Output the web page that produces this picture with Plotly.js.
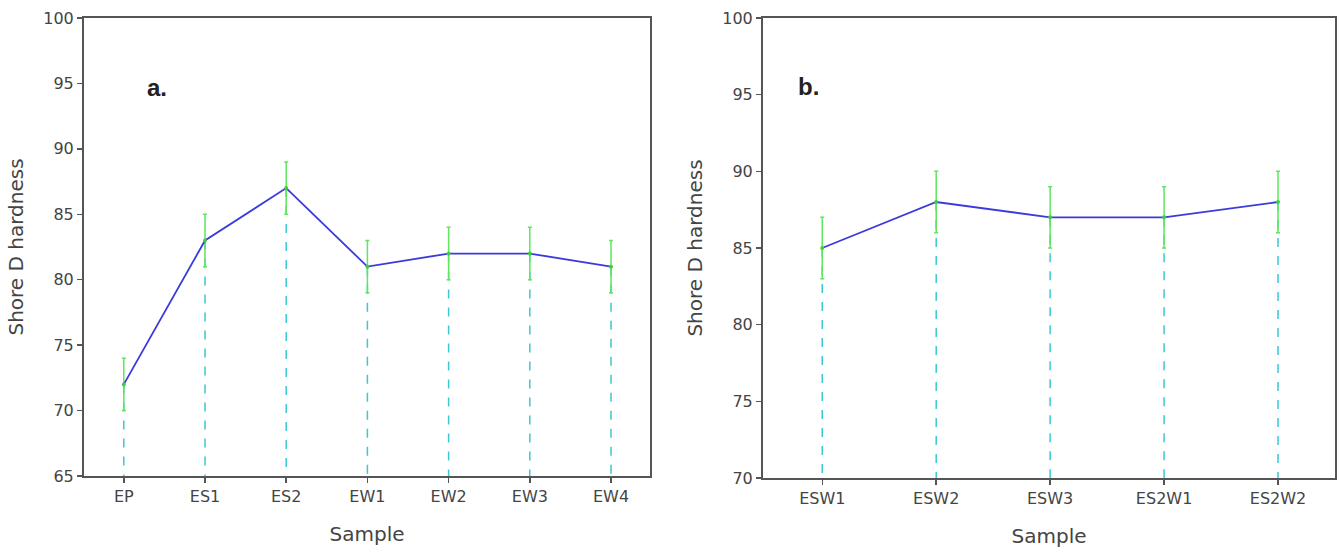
<!DOCTYPE html>
<html>
<head>
<meta charset="utf-8">
<script src="https://cdn.plot.ly/plotly-3.0.1.min.js"></script>
<style>html,body{margin:0;padding:0;background:#fff;}#chart{width:1340px;height:553px;}</style>
</head>
<body>
<div id="chart"></div>
<script>
// Panel a
const samplesA = ["EP", "ES1", "ES2", "EW1", "EW2", "EW3", "EW4"];
const hardnessA = [72, 83, 87, 81, 82, 82, 81];
const errorA = [2, 2, 2, 2, 2, 2, 2];
// Panel b
const samplesB = ["ESW1", "ESW2", "ESW3", "ES2W1", "ES2W2"];
const hardnessB = [85, 88, 87, 87, 88];
const errorB = [2, 2, 2, 2, 2];

const yMinA = 65, yMaxA = 100;
const yMinB = 70, yMaxB = 100;

function dropLines(cats, vals, base) {
  const xs = [], ys = [];
  cats.forEach((c, i) => { xs.push(c, c, null); ys.push(vals[i], base, null); });
  return {xs, ys};
}

const dA = dropLines(samplesA, hardnessA, yMinA);
const dB = dropLines(samplesB, hardnessB, yMinB);

const lineColor = "#3b3bdc";
const errColor = "#5ee65e";
const dropColor = "#3cc8d0";

const traces = [
  {x: dA.xs, y: dA.ys, xaxis: "x", yaxis: "y", mode: "lines", line: {color: dropColor, width: 1.5, dash: "dash"}, hoverinfo: "skip", showlegend: false},
  {x: dB.xs, y: dB.ys, xaxis: "x2", yaxis: "y2", mode: "lines", line: {color: dropColor, width: 1.5, dash: "dash"}, hoverinfo: "skip", showlegend: false},
  {x: samplesA, y: hardnessA, xaxis: "x", yaxis: "y", mode: "lines+markers",
   line: {color: lineColor, width: 1.8}, marker: {color: "#3ccf3c", size: 4},
   error_y: {type: "data", array: errorA, visible: true, color: errColor, thickness: 1.5, width: 2}, showlegend: false},
  {x: samplesB, y: hardnessB, xaxis: "x2", yaxis: "y2", mode: "lines+markers",
   line: {color: lineColor, width: 1.8}, marker: {color: "#3ccf3c", size: 4},
   error_y: {type: "data", array: errorB, visible: true, color: errColor, thickness: 1.5, width: 2}, showlegend: false}
];

const fam = "DejaVu Sans, Liberation Sans, Arial, sans-serif";
const axisFont = {family: fam, size: 16, color: "#444"};
const titleFont = {family: fam, size: 20, color: "#444"};

function xAxis(domain, cats, range, anchor) {
  return {domain, anchor, type: "category", categoryarray: cats, range,
    showline: true, linecolor: "#555", linewidth: 2, mirror: true,
    ticks: "outside", ticklen: 5, tickcolor: "#555", tickwidth: 1.5,
    showgrid: false, zeroline: false, tickfont: axisFont,
    title: {text: "Sample", font: titleFont, standoff: 22}};
}
function yAxis(domain, range, anchor) {
  return {domain, anchor, range, dtick: 5,
    showline: true, linecolor: "#555", linewidth: 2, mirror: true,
    ticks: "outside", ticklen: 5, tickcolor: "#555", tickwidth: 1.5,
    showgrid: false, zeroline: false, tickfont: axisFont,
    title: {text: "Shore D hardness", font: titleFont, standoff: 14}};
}

const layout = {
  width: 1340, height: 553,
  margin: {l: 0, r: 0, t: 0, b: 0},
  paper_bgcolor: "#fff", plot_bgcolor: "#fff",
  xaxis: xAxis([84/1340, 650/1340], samplesA, [-0.49, 6.48], "y"),
  yaxis: yAxis([1-476/553, 1-18/553], [yMinA, yMaxA], "x"),
  xaxis2: xAxis([763/1340, 1335/1340], samplesB, [-0.52, 4.5], "y2"),
  yaxis2: yAxis([1-478/553, 1-18/553], [yMinB, yMaxB], "x2"),
  annotations: [
    {text: "<b>a.</b>", x: 157, y: 88},
    {text: "<b>b.</b>", x: 808, y: 86}
  ].map(a => Object.assign(a, {x: a.x/1340, y: 1 - a.y/553, xref: "paper", yref: "paper",
     xanchor: "center", yanchor: "middle", showarrow: false,
     font: {family: "Liberation Sans, Arial, sans-serif", size: 24, color: "#222"}}))
};

Plotly.newPlot("chart", traces, layout, {staticPlot: true});
</script>
</body>
</html>
